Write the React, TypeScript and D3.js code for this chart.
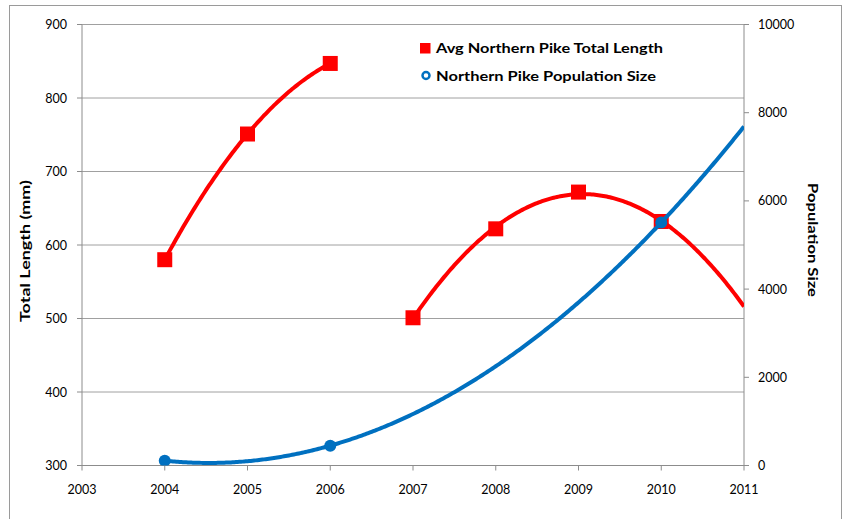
import React from 'react';
import * as d3 from 'd3';

// chart values
const xTickYears = [2003, 2004, 2005, 2006, 2007, 2008, 2009, 2010, 2011];
const lengthTicks = [300, 400, 500, 600, 700, 800, 900];
const popTicks = [0, 2000, 4000, 6000, 8000, 10000];

// average total length (mm), two survey runs
const lengthYearsA = [2004, 2005, 2006];
const lengthValuesA = [580, 751, 847];
const lengthYearsB = [2007, 2008, 2009, 2010];
const lengthValuesB = [501, 622, 672, 632];

// population size
const popYears = [2004, 2006, 2010];
const popValues = [110, 450, 5510];

const seriesNames = ['Avg Northern Pike Total Length', 'Northern Pike Population Size'];

const W = 843;
const H = 519;
const RED = '#FF0000';
const BLUE = '#0070C0';
const GRID = '#a0a0a0';
const AXIS = '#8c8c8c';
const FONT = 'Lato, "Liberation Sans", sans-serif';

// 2nd order polynomial trendline (least squares), like Excel's
const polyFit2 = (xs: number[], ys: number[]) => {
  const mx = d3.mean(xs) as number;
  const u = xs.map(v => v - mx);
  const s = (k: number) => d3.sum(u, v => Math.pow(v, k));
  const t = (k: number) => d3.sum(u, (v, i) => Math.pow(v, k) * ys[i]);
  // normal equations for c0 + c1*u + c2*u^2
  const A = [
    [s(0), s(1), s(2), t(0)],
    [s(1), s(2), s(3), t(1)],
    [s(2), s(3), s(4), t(2)],
  ];
  for (let i = 0; i < 3; i++) {
    for (let j = i + 1; j < 3; j++) {
      const f = A[j][i] / A[i][i];
      for (let k = i; k < 4; k++) A[j][k] -= f * A[i][k];
    }
  }
  const c = [0, 0, 0];
  for (let i = 2; i >= 0; i--) {
    let v = A[i][3];
    for (let k = i + 1; k < 3; k++) v -= A[i][k] * c[k];
    c[i] = v / A[i][i];
  }
  return (x: number) => c[0] + c[1] * (x - mx) + c[2] * (x - mx) * (x - mx);
};

const App = () => {
  const left = 82, right = 744, top = 24.5, bottom = 465.5;
  const x = d3.scaleLinear().domain([2003, 2011]).range([left, right]);
  const yL = d3.scaleLinear().domain([300, 900]).range([bottom, top]);
  const yR = d3.scaleLinear().domain([0, 10000]).range([bottom, top]);

  const fitA = polyFit2(lengthYearsA, lengthValuesA);
  const fitB = polyFit2(lengthYearsB, lengthValuesB);
  const fitP = polyFit2(popYears, popValues);

  const trend = (f: (v: number) => number, from: number, to: number, y: d3.ScaleLinear<number, number>) =>
    d3.line<number>()
      .x(d => x(d))
      .y(d => y(f(d)))(d3.range(from, to + 0.0001, 0.02)) || '';

  const sq = 15;

  return (
    <div>
      <style>{'body{margin:0}'}</style>
      <svg width={W} height={H} style={{ display: 'block', fontFamily: FONT }}>
        <rect x={0} y={0} width={W} height={H} fill="#fff" />
        <rect x={9.5} y={5.5} width={832} height={520} fill="none" stroke="#9a9a9a" strokeWidth={1} />
        <defs>
          <clipPath id="plot">
            <rect x={left} y={top - 10} width={right - left} height={bottom - top + 10} />
          </clipPath>
        </defs>

        {/* gridlines */}
        {lengthTicks.map(t => (
          <line key={'g' + t} x1={left} x2={right} y1={yL(t)} y2={yL(t)} stroke={t === 300 ? AXIS : GRID} strokeWidth={1} />
        ))}

        {/* axes */}
        <line x1={left} x2={left} y1={top} y2={bottom} stroke={AXIS} />
        <line x1={right} x2={right} y1={top} y2={bottom} stroke={AXIS} />
        {lengthTicks.map(t => (
          <g key={'l' + t}>
            <line x1={left - 5} x2={left} y1={yL(t)} y2={yL(t)} stroke={AXIS} />
            <text x={67} y={yL(t)} dy="0.36em" textAnchor="end" fontSize={12.5} fill="#000">{t}</text>
          </g>
        ))}
        {popTicks.map(t => (
          <g key={'r' + t}>
            <line x1={right} x2={right + 5} y1={yR(t)} y2={yR(t)} stroke={AXIS} />
            <text x={758} y={yR(t)} dy="0.36em" textAnchor="start" fontSize={12.5} fill="#000">{t}</text>
          </g>
        ))}
        {xTickYears.map(t => (
          <g key={'x' + t}>
            <line x1={x(t)} x2={x(t)} y1={bottom} y2={bottom + 5} stroke={AXIS} />
            <text x={x(t)} y={494} textAnchor="middle" fontSize={12.5} fill="#000">{t}</text>
          </g>
        ))}

        {/* axis titles */}
        <text transform="translate(30,251) rotate(-90)" textAnchor="middle" fontSize={14} fontWeight="bold"
          textLength={142} lengthAdjust="spacingAndGlyphs">Total Length (mm)</text>
        <text transform="translate(808,240) rotate(90)" textAnchor="middle" fontSize={14} fontWeight="bold"
          textLength={114} lengthAdjust="spacingAndGlyphs">Population Size</text>

        <g clipPath="url(#plot)">
          {/* length: trendlines + markers */}
          <path d={trend(fitA, 2004, 2006, yL)} fill="none" stroke={RED} strokeWidth={4} />
          <path d={trend(fitB, 2007, 2011, yL)} fill="none" stroke={RED} strokeWidth={4} />
          {lengthYearsA.map((yr, i) => (
            <rect key={'a' + i} x={x(yr) - sq / 2} y={yL(lengthValuesA[i]) - sq / 2} width={sq} height={sq} fill={RED} />
          ))}
          {lengthYearsB.map((yr, i) => (
            <rect key={'b' + i} x={x(yr) - sq / 2} y={yL(lengthValuesB[i]) - sq / 2} width={sq} height={sq} fill={RED} />
          ))}

          {/* population: trendline + markers */}
          <path d={trend(fitP, 2004, 2011, yR)} fill="none" stroke={BLUE} strokeWidth={4} />
          {popYears.map((yr, i) => (
            <circle key={'c' + i} cx={x(yr)} cy={yR(popValues[i])} r={6} fill={BLUE} />
          ))}
        </g>

        {/* legend */}
        <rect x={420} y={43} width={10.5} height={10.5} fill={RED} />
        <text x={436} y={53} fontSize={14} fontWeight="bold" textLength={227} lengthAdjust="spacingAndGlyphs">{seriesNames[0]}</text>
        <circle cx={426} cy={75.5} r={3.5} fill="#fff" stroke={BLUE} strokeWidth={2.5} />
        <text x={436} y={81} fontSize={14} fontWeight="bold" textLength={220} lengthAdjust="spacingAndGlyphs">{seriesNames[1]}</text>
      </svg>
    </div>
  );
};

export default App;
